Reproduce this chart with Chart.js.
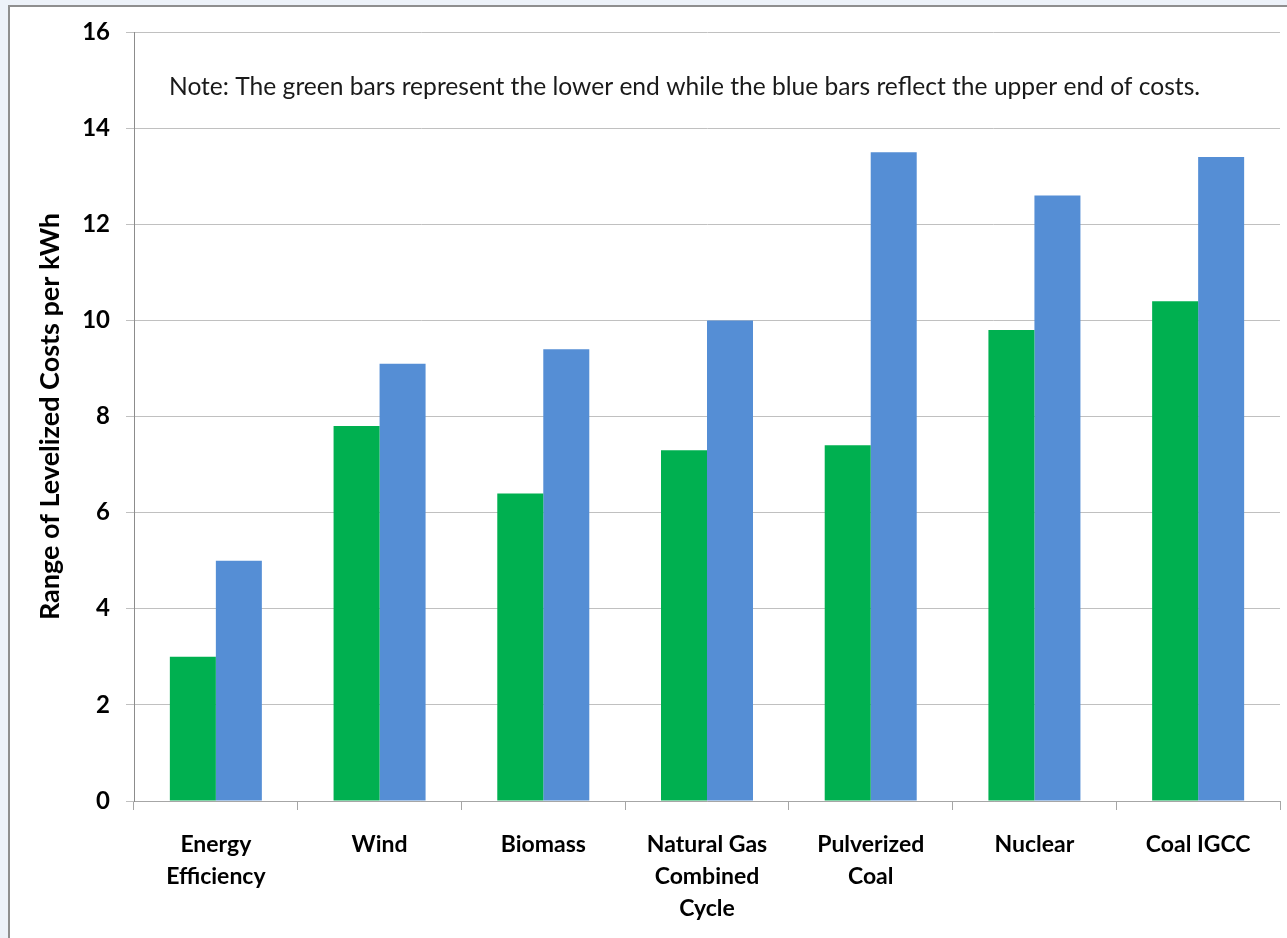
<!DOCTYPE html>
<html>
<head>
<meta charset="utf-8">
<script src="https://cdn.jsdelivr.net/npm/chart.js@4.4.0/dist/chart.umd.min.js"></script>
<style>
  html, body { margin: 0; padding: 0; }
  body { width: 1287px; height: 938px; background: #edf2f9; position: relative; overflow: hidden; }
  .frame { position: absolute; left: 8px; top: 5px; right: 0; bottom: 0; background: #fff;
           border-left: 2px solid #8f8f8f; border-top: 2px solid #8f8f8f; }
  .wrap { position: absolute; left: 0; top: 0; width: 1287px; height: 938px; }
</style>
</head>
<body>
<div class="frame"></div>
<div class="wrap"><canvas id="costChart"></canvas></div>
<script>
const categories = [
  ['Energy', 'Efficiency'],
  'Wind',
  'Biomass',
  ['Natural Gas', 'Combined', 'Cycle'],
  ['Pulverized', 'Coal'],
  'Nuclear',
  'Coal IGCC'
];
const lowCosts = [3.0, 7.8, 6.4, 7.3, 7.4, 9.8, 10.4];
const highCosts = [5.0, 9.1, 9.4, 10.0, 13.5, 12.6, 13.4];
const yTicks = [0, 2, 4, 6, 8, 10, 12, 14, 16];
const noteText = 'Note: The green bars represent the lower end while the blue bars reflect the upper end of costs.';

const FONT = 'Lato, "Open Sans", sans-serif';

// note sits inside the plot area, near the top
const notePlugin = {
  id: 'note',
  afterDraw(chart) {
    const ctx = chart.ctx;
    ctx.save();
    ctx.font = '24.6px ' + FONT;
    ctx.fillStyle = '#1a1a1a';
    ctx.textBaseline = 'middle';
    ctx.fillText(noteText, 169, 87);
    ctx.restore();
  }
};

new Chart(document.getElementById('costChart').getContext('2d'), {
  type: 'bar',
  data: {
    labels: categories,
    datasets: [
      { label: 'Low', data: lowCosts, backgroundColor: '#00b050' },
      { label: 'High', data: highCosts, backgroundColor: '#558ed5' }
    ]
  },
  options: {
    responsive: true,
    maintainAspectRatio: false,
    animation: false,
    layout: { padding: { top: 32, right: 7, left: 0, bottom: 0 } },
    datasets: { bar: { categoryPercentage: 0.562, barPercentage: 1.0 } },
    plugins: {
      legend: { display: false },
      tooltip: { enabled: false }
    },
    scales: {
      x: {
        afterFit(scale) { scale.height = 137; },
        grid: { drawOnChartArea: false, offset: true, tickLength: 9, color: '#a6a6a6' },
        border: { color: '#a6a6a6' },
        ticks: {
          color: '#000',
          padding: 18,
          maxRotation: 0,
          autoSkip: false,
          font: { family: FONT, size: 23, weight: 'bold', lineHeight: 1.4 }
        }
      },
      y: {
        min: 0,
        max: 16,
        afterFit(scale) { scale.width = 134; },
        afterBuildTicks(scale) { scale.ticks = yTicks.map(v => ({ value: v })); },
        grid: { color: '#c0c0c0', tickLength: 8 },
        border: { color: '#8c8c8c' },
        ticks: {
          color: '#000',
          padding: 16,
          font: { family: FONT, size: 24, weight: 'bold' }
        },
        title: {
          display: true,
          text: 'Range of Levelized Costs per kWh',
          color: '#000',
          padding: { top: 34, bottom: 0 },
          font: { family: FONT, size: 27, weight: 'bold' }
        }
      }
    }
  },
  plugins: [notePlugin]
});
</script>
</body>
</html>
